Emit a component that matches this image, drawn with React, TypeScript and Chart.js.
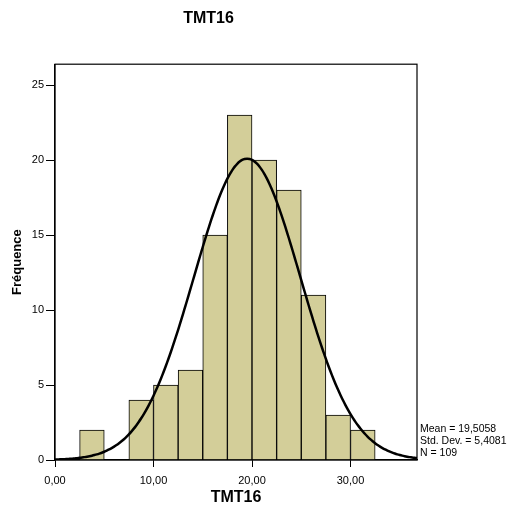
import React, { useEffect, useRef } from "react";
import { Chart, registerables } from "chart.js";

Chart.register(...registerables);

// Histogram bins (lower edge, upper edge) and frequencies
const binStarts = [2.5, 5, 7.5, 10, 12.5, 15, 17.5, 20, 22.5, 25, 27.5, 30];
const binWidth = 2.5;
const frequencies = [2, 0, 4, 5, 6, 15, 23, 20, 18, 11, 3, 2];

const MEAN = 19.5058;
const STD = 5.4081;
const N = 109;

const xTicks = [0, 10, 20, 30];
const yTicks = [0, 5, 10, 15, 20, 25];
const X_MAX = 36.75;
const Y_MAX = 26.4;

const statsLines = ["Mean = 19,5058", "Std. Dev. = 5,4081", "N = 109"];

const FONT = "'Liberation Sans', Arial, sans-serif";

function normalCurve() {
  const pts: { x: number; y: number }[] = [];
  const k = (N * binWidth) / (STD * Math.sqrt(2 * Math.PI));
  for (let x = 0; x <= X_MAX + 1e-9; x += 0.25) {
    const z = (x - MEAN) / STD;
    pts.push({ x, y: k * Math.exp(-0.5 * z * z) });
  }
  return pts;
}

export default function App() {
  const ref = useRef<HTMLCanvasElement | null>(null);

  useEffect(() => {
    document.body.style.margin = "0";
    const canvas = ref.current!;
    const framePlugin = {
      id: "frame",
      afterDatasetsDraw(chart: any) {
        const { ctx, chartArea } = chart;
        ctx.save();
        ctx.strokeStyle = "#000";
        ctx.lineWidth = 1.2;
        ctx.strokeRect(chartArea.left, chartArea.top, chartArea.right - chartArea.left, chartArea.bottom - chartArea.top);
        ctx.fillStyle = "#000";
        ctx.font = `10.5px ${FONT}`;
        ctx.textBaseline = "middle";
        ctx.textAlign = "left";
        const x0 = chartArea.right + 3;
        statsLines.forEach((s, i) => {
          ctx.fillText(s, x0, chartArea.bottom - 31 + i * 12);
        });
        ctx.restore();
      },
    };

    const chart = new Chart(canvas, {
      type: "bar",
      data: {
        datasets: [
          {
            type: "line",
            data: normalCurve(),
            borderColor: "#000",
            borderWidth: 2.5,
            pointRadius: 0,
            tension: 0.3,
            fill: false,
            order: 0,
          } as any,
          {
            type: "bar",
            data: binStarts.map((b, i) => ({ x: b + binWidth / 2, y: frequencies[i] })),
            backgroundColor: "rgb(211,206,153)",
            borderColor: "#000",
            borderWidth: 1,
            barPercentage: 1,
            categoryPercentage: 1,
            order: 1,
          } as any,
        ],
      },
      options: {
        animation: false,
        responsive: false,
        layout: { padding: { left: 0, right: 103, top: 0, bottom: 0 } },
        plugins: {
          legend: { display: false },
          tooltip: { enabled: false },
          title: {
            display: true,
            text: "TMT16",
            color: "#000",
            font: { family: FONT, size: 16, weight: "bold" },
            padding: { top: 9, bottom: 36 },
          },
        },
        scales: {
          x: {
            type: "linear",
            min: 0,
            max: X_MAX,
            offset: false,
            afterBuildTicks: (s: any) => {
              s.ticks = xTicks.map((v) => ({ value: v }));
            },
            afterFit: (s: any) => {
              s.height = 47;
            },
            grid: {
              offset: false,
              drawOnChartArea: false,
              drawTicks: true,
              tickLength: 7,
              color: "#000",
              lineWidth: 1,
            },
            border: { display: true, color: "#000", width: 1.2 },
            ticks: {
              color: "#000",
              padding: 7,
              maxRotation: 0,
              font: { family: FONT, size: 11 },
              callback: (v: any) => Number(v).toFixed(2).replace(".", ","),
            },
            title: {
              display: true,
              text: "TMT16",
              color: "#000",
              font: { family: FONT, size: 16, weight: "bold" },
              padding: { top: 0, bottom: 0 },
            },
          },
          y: {
            type: "linear",
            min: 0,
            max: Y_MAX,
            afterBuildTicks: (s: any) => {
              s.ticks = yTicks.map((v) => ({ value: v }));
            },
            afterFit: (s: any) => {
              s.width = 55;
            },
            grid: {
              drawOnChartArea: false,
              drawTicks: true,
              tickLength: 9,
              color: "#000",
              lineWidth: 1,
            },
            border: { display: true, color: "#000", width: 1.2 },
            ticks: {
              color: "#000",
              padding: 2,
              font: { family: FONT, size: 11 },
            },
            title: {
              display: true,
              text: "Fréquence",
              color: "#000",
              font: { family: FONT, size: 13, weight: "bold" },
              padding: { top: 10, bottom: 0 },
            },
          },
        },
      },
      plugins: [framePlugin],
    } as any);
    return () => chart.destroy();
  }, []);

  return (
    <div style={{ position: "absolute", left: 0, top: 0, width: 520, height: 507 }}>
      <canvas ref={ref} width={520} height={507} style={{ width: 520, height: 507 }} />
    </div>
  );
}
